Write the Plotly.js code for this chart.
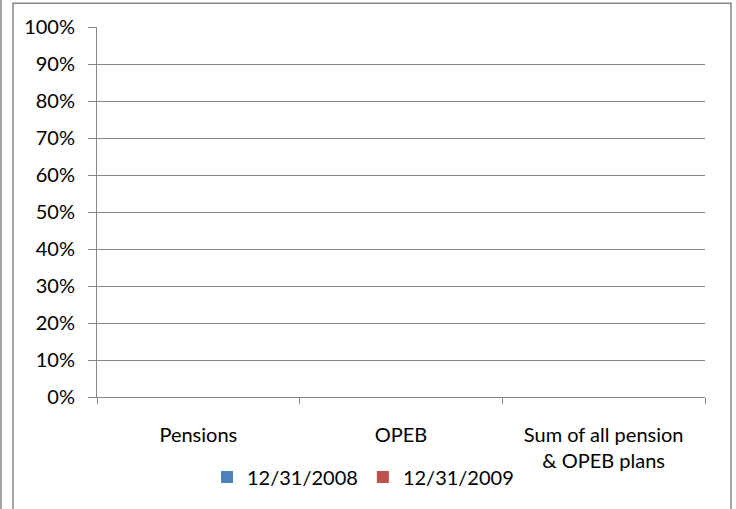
<!DOCTYPE html>
<html>
<head>
<meta charset="utf-8">
<script src="https://cdn.plot.ly/plotly-3.0.1.min.js"></script>
<style>
html,body{margin:0;padding:0;background:#fff;}
#chart{width:736px;height:509px;}
</style>
</head>
<body>
<div id="chart"></div>
<script>
const categories = ["Pensions", "OPEB", "Sum of all pension<br>& OPEB plans"];
const seriesNames = ["12/31/2008", "12/31/2009"];
const values2008 = [0, 0, 0];
const values2009 = [0, 0, 0];
const yTickVals = [0, 0.1, 0.2, 0.3, 0.4, 0.5, 0.6, 0.7, 0.8, 0.9, 1.0];

const fontFam = "Lato, 'Open Sans', sans-serif";
const gray = "#878787";

const traces = [
  {type: "bar", name: seriesNames[0], x: categories, y: values2008, marker: {color: "#4F81BD"}},
  {type: "bar", name: seriesNames[1], x: categories, y: values2009, marker: {color: "#C0504D"}}
];

const L = 97, R = 705, T = 27, B = 402;
const px = v => (v - L) / (R - L);
const py = v => (B - v) / (B - T);

const layout = {
  width: 736, height: 509,
  margin: {l: L, r: 736 - R, t: T, b: 509 - B, pad: 0},
  paper_bgcolor: "#fff", plot_bgcolor: "#fff",
  font: {family: fontFam, size: 20, color: "#000"},
  barmode: "group",
  showlegend: true,
  legend: {orientation: "h", x: px(207), xanchor: "left", y: py(483), yanchor: "middle",
           font: {size: 20}, traceorder: "normal", itemwidth: 30},
  xaxis: {
    type: "category", showgrid: false, showline: true, linecolor: gray, linewidth: 1,
    ticks: "outside", tickson: "boundaries", ticklen: 6, tickcolor: gray,
    ticklabelstandoff: 20, zeroline: false, fixedrange: true
  },
  yaxis: {
    range: [0, 1], tickvals: yTickVals, tickformat: ".0%", showgrid: true, gridcolor: gray,
    showline: true, linecolor: gray, linewidth: 1, ticks: "outside", ticklen: 8, tickcolor: gray,
    ticklabelstandoff: 9, zeroline: false, fixedrange: true
  },
  shapes: [
    {type: "rect", xref: "paper", yref: "paper", x0: px(13), x1: px(731), y0: py(520), y1: py(3),
     line: {color: gray, width: 1.5}},
    {type: "line", xref: "paper", yref: "paper", x0: px(1), x1: px(1), y0: py(520), y1: py(-10),
     line: {color: gray, width: 1.5}}
  ]
};

Plotly.newPlot("chart", traces, layout, {displayModeBar: false, staticPlot: true});
</script>
</body>
</html>
